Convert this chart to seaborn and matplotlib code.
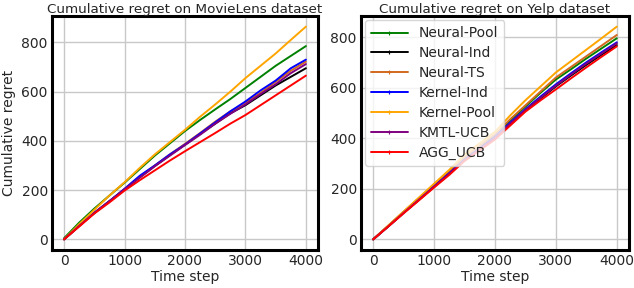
import numpy as np
import pandas as pd
import matplotlib
matplotlib.use("Agg")
import matplotlib.pyplot as plt
import seaborn as sns

steps = [0, 250, 500, 750, 1000, 1250, 1500, 1750, 2000, 2250, 2500, 2750, 3000, 3250, 3500, 3750, 4000]
methods = ["Neural-Pool", "Neural-Ind", "Neural-TS", "Kernel-Ind", "Kernel-Pool", "KMTL-UCB", "AGG_UCB"]
colors = ["green", "black", "chocolate", "blue", "orange", "purple", "red"]

movielens_neural_pool = [5, 68, 125, 178, 230, 285, 340, 390, 440, 485, 528, 570, 615, 660, 705, 745, 785]
movielens_neural_ind = [0, 55, 107, 155, 203, 252, 298, 342, 385, 428, 470, 512, 545, 585, 625, 660, 695]
movielens_neural_ts = [0, 55, 108, 155, 205, 255, 300, 345, 388, 432, 478, 520, 555, 595, 640, 685, 722]
movielens_kernel_ind = [0, 55, 108, 155, 205, 258, 300, 345, 385, 430, 475, 520, 560, 605, 645, 695, 730]
movielens_kernel_pool = [0, 62, 120, 178, 232, 290, 345, 395, 445, 498, 548, 600, 655, 705, 755, 810, 864]
movielens_kmtl_ucb = [0, 55, 107, 155, 203, 250, 297, 340, 383, 425, 470, 510, 548, 590, 630, 675, 712]
movielens_agg_ucb = [0, 52, 105, 150, 198, 240, 280, 320, 358, 395, 432, 470, 505, 545, 585, 625, 665]

yelp_neural_pool = [0, 53, 107, 160, 214, 266, 320, 366, 412, 470, 525, 580, 632, 673, 715, 755, 795]
yelp_neural_ind = [0, 52, 105, 156, 208, 259, 312, 358, 405, 457, 510, 557, 605, 648, 690, 730, 768]
yelp_neural_ts = [0, 55, 110, 163, 217, 270, 325, 370, 415, 475, 530, 585, 640, 682, 724, 766, 808]
yelp_kernel_ind = [0, 52, 105, 157, 210, 262, 315, 360, 405, 462, 515, 565, 613, 657, 700, 740, 779]
yelp_kernel_pool = [0, 55, 110, 165, 220, 275, 335, 380, 425, 490, 550, 605, 660, 705, 750, 795, 841]
yelp_kmtl_ucb = [0, 52, 105, 157, 209, 260, 313, 358, 402, 458, 512, 560, 608, 652, 695, 735, 775]
yelp_agg_ucb = [0, 51, 103, 154, 205, 255, 310, 352, 395, 450, 505, 550, 593, 637, 680, 722, 763]

movielens = [movielens_neural_pool, movielens_neural_ind, movielens_neural_ts, movielens_kernel_ind,
             movielens_kernel_pool, movielens_kmtl_ucb, movielens_agg_ucb]
yelp = [yelp_neural_pool, yelp_neural_ind, yelp_neural_ts, yelp_kernel_ind,
        yelp_kernel_pool, yelp_kmtl_ucb, yelp_agg_ucb]


def to_long(series_list):
    rows = []
    for m, vals in zip(methods, series_list):
        for s, v in zip(steps, vals):
            rows.append({"Time step": s, "regret": v, "method": m})
    return pd.DataFrame(rows)


sns.set_theme(style="whitegrid")
plt.rcParams["font.family"] = ["DejaVu Sans"]
plt.rcParams.update({
    "axes.edgecolor": "black",
    "axes.linewidth": 2.2,
    "grid.color": "#c8c8c8",
    "grid.linewidth": 1.0,
    "xtick.major.size": 0,
    "ytick.major.size": 0,
    "font.size": 9.5,
})

fig = plt.figure(figsize=(6.34, 2.88), dpi=100)
ax1 = fig.add_axes([52 / 634, 38 / 288, 266 / 634, 234 / 288])
ax2 = fig.add_axes([361 / 634, 38 / 288, 268 / 634, 234 / 288])

palette = dict(zip(methods, colors))
for ax, data, title, show_legend in [
    (ax1, movielens, "Cumulative regret on MovieLens dataset", False),
    (ax2, yelp, "Cumulative regret on Yelp dataset", True),
]:
    df = to_long(data)
    sns.lineplot(data=df, x="Time step", y="regret", hue="method", hue_order=methods,
                 palette=palette, ax=ax, linewidth=1.4, legend=show_legend)
    ax.set_title(title, fontsize=9.7, pad=2)
    ax.set_xlabel("Time step", fontsize=10, labelpad=1)
    ax.set_xticks([0, 1000, 2000, 3000, 4000])
    ax.set_yticks([0, 200, 400, 600, 800])
    ax.tick_params(labelsize=10, pad=3)
    ax.margins(x=0.05, y=0.05)
    for sp in ax.spines.values():
        sp.set_edgecolor("black")
        sp.set_linewidth(2.2)

ax1.set_ylabel("Cumulative regret", fontsize=10)
ax2.set_ylabel("")
leg = ax2.legend(loc="upper left", fontsize=10, frameon=True, borderaxespad=0.3,
                 handlelength=2.6, labelspacing=0.42, borderpad=0.45)
for h in leg.legend_handles:
    h.set_marker("+")
    h.set_markersize(3)
    h.set_markeredgewidth(0.8)
    h.set_markeredgecolor(h.get_color())
leg.get_frame().set_edgecolor("#cccccc")

fig.savefig("out.png", dpi=100)
